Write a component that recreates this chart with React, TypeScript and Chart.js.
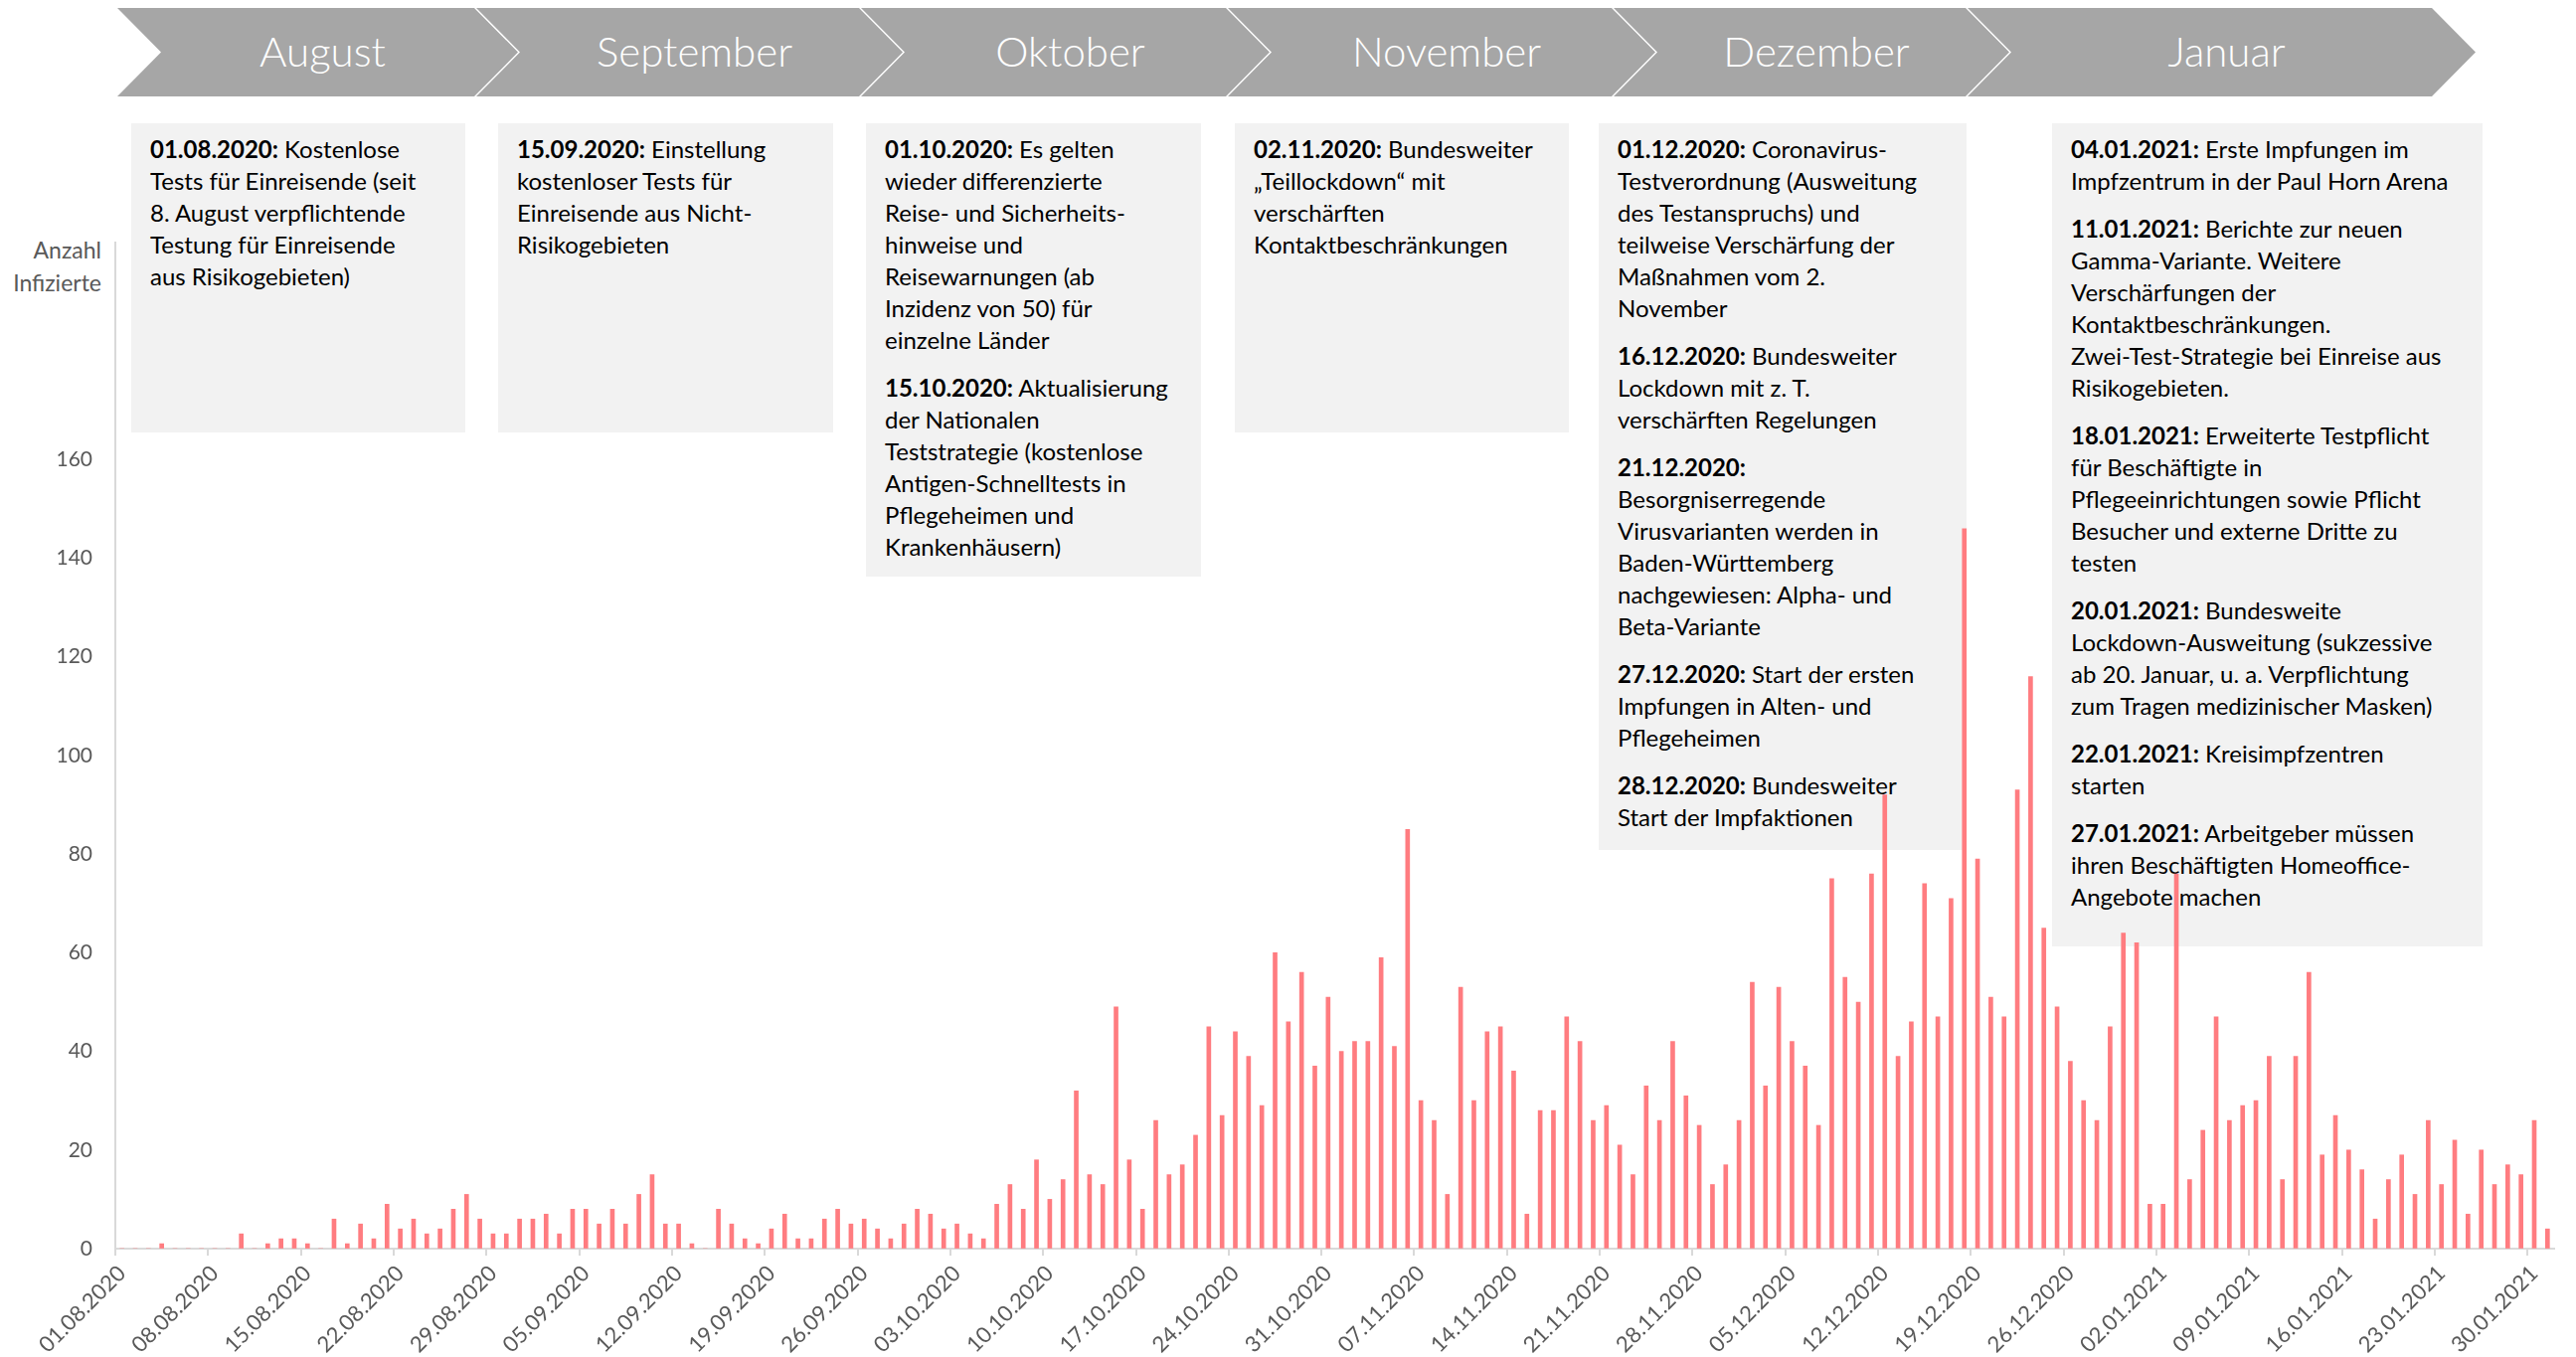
import React, { useEffect, useRef } from "react";
import { Chart, registerables } from "chart.js";

Chart.register(...registerables);

// ---- data ----
const START_DATE = [2020, 7, 1]; // 01.08.2020 (month 0-based)
const CASES_AUG = [0, 0, 0, 1, 0, 0, 0, 0, 0, 3, 0, 1, 2, 2, 1, 0, 6, 1, 5, 2, 9, 4, 6, 3, 4, 8, 11, 6, 3, 3, 6];
const CASES_SEP = [6, 7, 3, 8, 8, 5, 8, 5, 11, 15, 5, 5, 1, 0, 8, 5, 2, 1, 4, 7, 2, 2, 6, 8, 5, 6, 4, 2, 5, 8];
const CASES_OCT = [7, 4, 5, 3, 2, 9, 13, 8, 18, 10, 14, 32, 15, 13, 49, 18, 8, 26, 15, 17, 23, 45, 27, 44, 39, 29, 60, 46, 56, 37, 51];
const CASES_NOV = [40, 42, 42, 59, 41, 85, 30, 26, 11, 53, 30, 44, 45, 36, 7, 28, 28, 47, 42, 26, 29, 21, 15, 33, 26, 42, 31, 25, 13, 17];
const CASES_DEC = [26, 54, 33, 53, 42, 37, 25, 75, 55, 50, 76, 92, 39, 46, 74, 47, 71, 146, 79, 51, 47, 93, 116, 65, 49, 38, 30, 26, 45, 64, 62];
const CASES_JAN = [9, 9, 76, 14, 24, 47, 26, 29, 30, 39, 14, 39, 56, 19, 27, 20, 16, 6, 14, 19, 11, 26, 13, 22, 7, 20, 13, 17, 15, 26, 4];
const CASES = [...CASES_AUG, ...CASES_SEP, ...CASES_OCT, ...CASES_NOV, ...CASES_DEC, ...CASES_JAN];

const Y_TICK_MAX_LABEL = 160;
const Y_AXIS_MAX = 204;
const Y_STEP = 20;
const X_LABEL_EVERY = 7;

const MONTHS = ["August", "September", "Oktober", "November", "Dezember", "Januar"];
const Y_TITLE = ["Anzahl", "Infizierte"];

type Para = { date: string; lines: string[] };
const EVENTS_AUG: Para[] = [
  { date: "01.08.2020:", lines: ["Kostenlose", "Tests für Einreisende (seit", "8. August verpflichtende", "Testung für Einreisende", "aus Risikogebieten)"] },
];
const EVENTS_SEP: Para[] = [
  { date: "15.09.2020:", lines: ["Einstellung", "kostenloser Tests für", "Einreisende aus Nicht-", "Risikogebieten"] },
];
const EVENTS_OCT: Para[] = [
  { date: "01.10.2020:", lines: ["Es gelten", "wieder differenzierte", "Reise- und Sicherheits-", "hinweise und", "Reisewarnungen (ab", "Inzidenz von 50) für", "einzelne Länder"] },
  { date: "15.10.2020:", lines: ["Aktualisierung", "der Nationalen", "Teststrategie (kostenlose", "Antigen-Schnelltests in", "Pflegeheimen und", "Krankenhäusern)"] },
];
const EVENTS_NOV: Para[] = [
  { date: "02.11.2020:", lines: ["Bundesweiter", "„Teillockdown“ mit", "verschärften", "Kontaktbeschränkungen"] },
];
const EVENTS_DEC: Para[] = [
  { date: "01.12.2020:", lines: ["Coronavirus-", "Testverordnung (Ausweitung", "des Testanspruchs) und", "teilweise Verschärfung der", "Maßnahmen vom 2.", "November"] },
  { date: "16.12.2020:", lines: ["Bundesweiter", "Lockdown mit z. T.", "verschärften Regelungen"] },
  { date: "21.12.2020:", lines: ["", "Besorgniserregende", "Virusvarianten werden in", "Baden-Württemberg", "nachgewiesen: Alpha- und", "Beta-Variante"] },
  { date: "27.12.2020:", lines: ["Start der ersten", "Impfungen in Alten- und", "Pflegeheimen"] },
  { date: "28.12.2020:", lines: ["Bundesweiter", "Start der Impfaktionen"] },
];
const EVENTS_JAN: Para[] = [
  { date: "04.01.2021:", lines: ["Erste Impfungen im", "Impfzentrum in der Paul Horn Arena"] },
  { date: "11.01.2021:", lines: ["Berichte zur neuen", "Gamma-Variante. Weitere", "Verschärfungen der", "Kontaktbeschränkungen.", "Zwei-Test-Strategie bei Einreise aus", "Risikogebieten."] },
  { date: "18.01.2021:", lines: ["Erweiterte Testpflicht", "für Beschäftigte in", "Pflegeeinrichtungen sowie Pflicht", "Besucher und externe Dritte zu", "testen"] },
  { date: "20.01.2021:", lines: ["Bundesweite", "Lockdown-Ausweitung (sukzessive", "ab 20. Januar, u. a. Verpflichtung", "zum Tragen medizinischer Masken)"] },
  { date: "22.01.2021:", lines: ["Kreisimpfzentren", "starten"] },
  { date: "27.01.2021:", lines: ["Arbeitgeber müssen", "ihren Beschäftigten Homeoffice-", "Angebote machen"] },
];
const EVENTS = [EVENTS_AUG, EVENTS_SEP, EVENTS_OCT, EVENTS_NOV, EVENTS_DEC, EVENTS_JAN];

// ---- layout / styles ----
const W = 2591;
const H = 1365;
const BAR_COLOR = "#FF7C80";
const AXIS_COLOR = "#D9D9D9";
const TEXT_GREY = "#595959";
const CHEVRON_GREY = "#A6A6A6";
const BOX_GREY = "#F2F2F2";
const FONT = "Lato, 'Open Sans', sans-serif";

const CHEVRON_EDGES = [
  [118, 477],
  [479, 864],
  [866, 1233],
  [1235, 1621],
  [1623, 1977],
  [1979, 2446],
];
const CHEVRON_TOP = 8;
const CHEVRON_BOTTOM = 97;
const CHEVRON_DEPTH = 44;

const BOXES = [
  { left: 132, top: 124, width: 336, height: 311 },
  { left: 501, top: 124, width: 337, height: 311 },
  { left: 871, top: 124, width: 337, height: 456 },
  { left: 1242, top: 124, width: 336, height: 311 },
  { left: 1608, top: 124, width: 370, height: 731 },
  { left: 2064, top: 124, width: 433, height: 828 },
];

function makeDateLabels(n: number): string[] {
  const out: string[] = [];
  const d = new Date(START_DATE[0], START_DATE[1], START_DATE[2]);
  for (let i = 0; i < n; i++) {
    const dd = String(d.getDate()).padStart(2, "0");
    const mm = String(d.getMonth() + 1).padStart(2, "0");
    out.push(`${dd}.${mm}.${d.getFullYear()}`);
    d.setDate(d.getDate() + 1);
  }
  return out;
}
const DATES = makeDateLabels(CASES.length);

function Chevrons() {
  const mid = (CHEVRON_TOP + CHEVRON_BOTTOM) / 2;
  return (
    <svg width={W} height={110} style={{ position: "absolute", left: 0, top: 0 }}>
      {CHEVRON_EDGES.map(([l, r], i) => {
        const pts = [
          [l, CHEVRON_TOP],
          [r, CHEVRON_TOP],
          [r + CHEVRON_DEPTH, mid],
          [r, CHEVRON_BOTTOM],
          [l, CHEVRON_BOTTOM],
          [l + CHEVRON_DEPTH, mid],
        ]
          .map((p) => p.join(","))
          .join(" ");
        const cx = (l + r) / 2 + 27;
        return (
          <g key={i}>
            <polygon points={pts} fill={CHEVRON_GREY} />
            <text
              x={cx}
              y={mid - 2}
              fill="#FFFFFF"
              fontFamily={FONT}
              fontWeight={300}
              fontSize={42}
              textAnchor="middle"
              dominantBaseline="central"
            >
              {MONTHS[i]}
            </text>
          </g>
        );
      })}
    </svg>
  );
}

function EventBox({ idx }: { idx: number }) {
  const b = BOXES[idx];
  return (
    <div
      style={{
        position: "absolute",
        left: b.left,
        top: b.top,
        width: b.width,
        height: b.height,
        background: BOX_GREY,
        boxSizing: "border-box",
        padding: "10px 0 0 19px",
        fontFamily: FONT,
        fontSize: 24,
        lineHeight: "32px",
        color: "#000",
        whiteSpace: "nowrap",
      }}
    >
      {EVENTS[idx].map((p, j) => (
        <div key={j} style={{ marginTop: j === 0 ? 0 : 16 }}>
          {p.lines.map((ln, k) => (
            <div key={k}>
              {k === 0 ? (
                <>
                  <b style={{ fontWeight: 700 }}>{p.date}</b>
                  {ln ? " " + ln : ""}
                </>
              ) : (
                ln
              )}
            </div>
          ))}
        </div>
      ))}
    </div>
  );
}

export default function App() {
  const ref = useRef<HTMLCanvasElement | null>(null);

  useEffect(() => {
    document.body.style.margin = "0";
    const canvas = ref.current;
    if (!canvas) return;
    const chart = new Chart(canvas, {
      type: "bar",
      data: {
        labels: DATES,
        datasets: [
          {
            data: CASES,
            backgroundColor: BAR_COLOR,
            borderWidth: 0,
            barThickness: 4,
          },
        ],
      },
      options: {
        animation: false,
        responsive: false,
        maintainAspectRatio: false,
        devicePixelRatio: 1,
        layout: { padding: { left: 0, right: 22, top: 244, bottom: 0 } },
        plugins: { legend: { display: false }, tooltip: { enabled: false }, title: { display: false } },
        scales: {
          x: {
            type: "category",
            offset: true,
            grid: {
              offset: true,
              drawOnChartArea: false,
              drawTicks: true,
              tickLength: 7,
              lineWidth: 2,
              color: (ctx: any) => (ctx.index % X_LABEL_EVERY === 0 ? AXIS_COLOR : "rgba(0,0,0,0)"),
            },
            border: { display: true, color: AXIS_COLOR, width: 2 },
            ticks: {
              autoSkip: false,
              maxRotation: 45,
              minRotation: 45,
              padding: 5,
              color: TEXT_GREY,
              font: { family: FONT, size: 22 },
              callback: (_v: any, i: number) => (i % X_LABEL_EVERY === 0 ? DATES[i] : ""),
            },
            afterFit: (s: any) => {
              s.height = H - 1256;
            },
          },
          y: {
            min: 0,
            max: Y_AXIS_MAX,
            grid: { display: true, drawOnChartArea: false, drawTicks: false },
            border: { display: true, color: AXIS_COLOR, width: 2 },
            ticks: {
              stepSize: Y_STEP,
              padding: 23,
              color: TEXT_GREY,
              font: { family: FONT, size: 21 },
              callback: (v: any) => (Number(v) <= Y_TICK_MAX_LABEL && Number(v) % Y_STEP === 0 ? String(v) : ""),
            },
            afterFit: (s: any) => {
              s.width = 116;
            },
          },
        },
      },
    });
    return () => chart.destroy();
  }, []);

  return (
    <div style={{ position: "absolute", left: 0, top: 0, width: W, height: H, background: "#fff", overflow: "hidden" }}>
      <Chevrons />
      {BOXES.map((_, i) => (
        <EventBox key={i} idx={i} />
      ))}
      <div
        style={{
          position: "absolute",
          left: 0,
          top: 235,
          width: 102,
          textAlign: "right",
          fontFamily: FONT,
          fontSize: 23,
          lineHeight: "33px",
          color: TEXT_GREY,
        }}
      >
        {Y_TITLE.map((t, i) => (
          <div key={i}>{t}</div>
        ))}
      </div>
      <canvas
        ref={ref}
        width={W}
        height={H}
        style={{ position: "absolute", left: 0, top: 0, width: W, height: H }}
      />
    </div>
  );
}
